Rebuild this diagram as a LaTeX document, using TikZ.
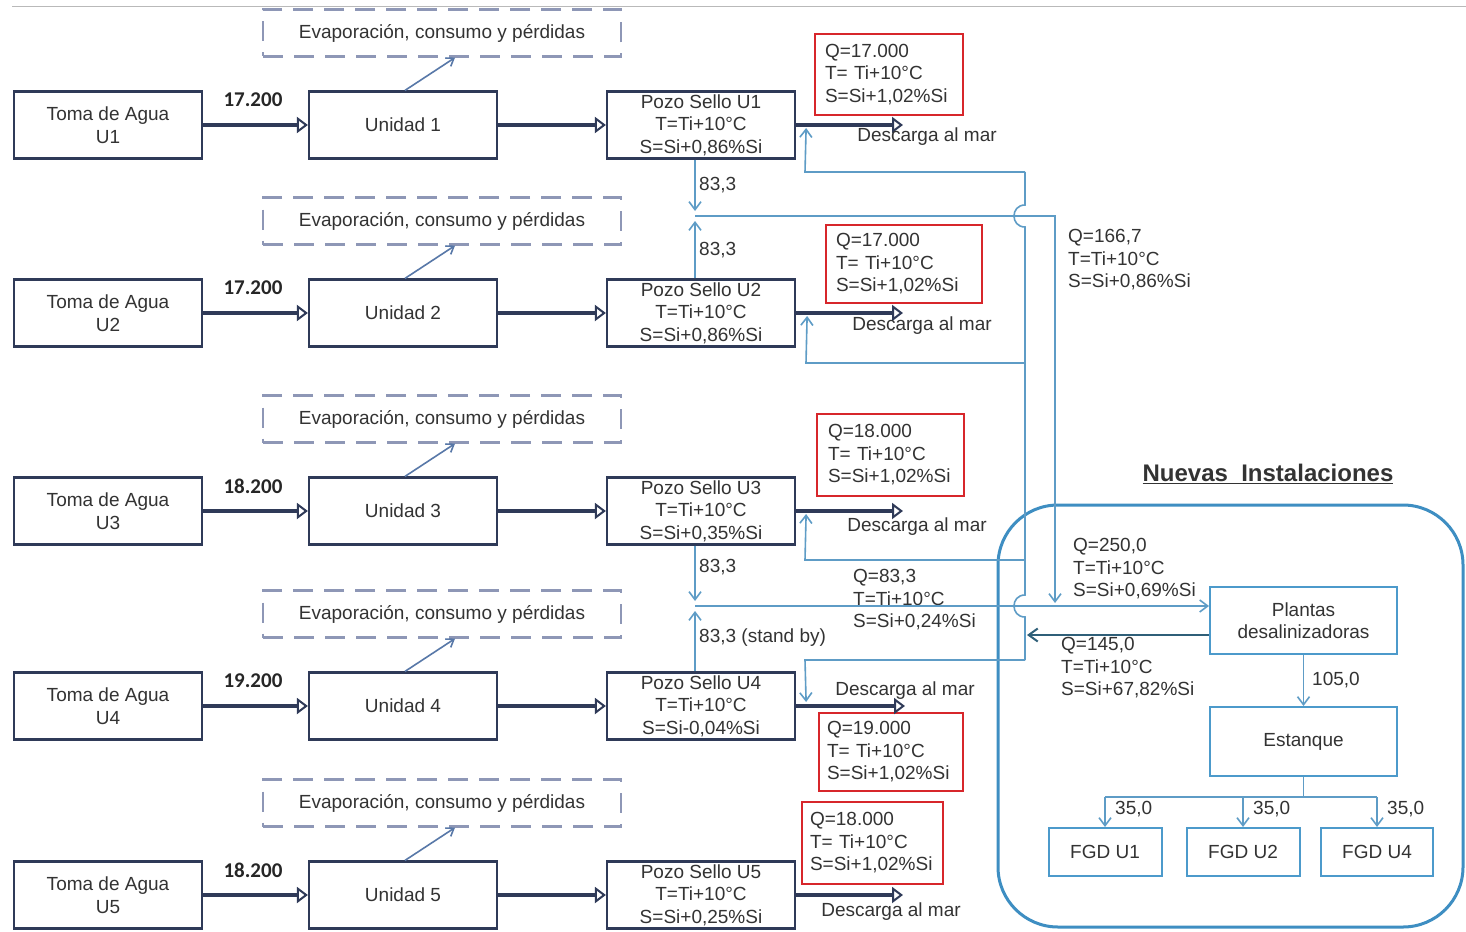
\documentclass[tikz,border=0pt]{standalone}
\usepackage{fontspec}
\setmainfont{Liberation Sans}
\newfontfamily\calib{Carlito}
\usetikzlibrary{arrows.meta}
\definecolor{navy}{HTML}{2F3A58}
\definecolor{txt}{HTML}{333333}
\definecolor{pipec}{HTML}{5E9CC6}
\definecolor{retc}{HTML}{2F5F78}
\definecolor{bigc}{HTML}{3E8EC2}
\definecolor{boxc}{HTML}{4C9ACB}
\definecolor{dashc}{HTML}{8E97B6}
\definecolor{redc}{HTML}{D7262B}
\definecolor{diagc}{HTML}{5878A8}
\newcommand{\fs}{\fontsize{19}{22.5}\selectfont}
\begin{document}
\begin{tikzpicture}[x=1pt,y=-1pt,
  nbox/.style={draw=navy, line width=2.2pt, minimum width=188pt, minimum height=67pt, align=center, text=txt, inner sep=0pt, font=\fs},
  dbox/.style={draw=dashc, line width=2.2pt, dash pattern=on 20pt off 11pt, minimum width=358pt, minimum height=47pt, text=txt, inner sep=0pt, font=\fs},
  rbox/.style={draw=redc, line width=2.6pt, align=left, text=txt, inner sep=0pt, font=\fs},
  bbox/.style={draw=boxc, line width=2pt, align=center, text=txt, inner sep=0pt, font=\fs},
  main/.style={draw=navy, line width=3.6pt, -{Triangle[open, length=11pt, width=16pt, line width=2pt]}},
  diag/.style={draw=diagc, line width=1.6pt, -{Straight Barb[length=7pt, width=10pt]}},
  pipe/.style={draw=pipec, line width=1.6pt},
  pipea/.style={pipe, -{Straight Barb[length=8pt, width=12pt]}},
  reta/.style={draw=retc, line width=2pt, -{Straight Barb[length=9pt, width=13pt]}},
  lbl/.style={text=txt, inner sep=0pt, align=left, font=\fs},
  flow/.style={text=black!85, inner sep=0pt, font=\calib\fontsize{21}{24}\selectfont\bfseries}
]
\fill[white] (0,0) rectangle (1466,931);
\useasboundingbox (0,0) rectangle (1466,931);
\draw[gray!55, line width=1pt] (12,7) -- (1466,7);

% big box
\draw[draw=bigc, line width=3pt, rounded corners=60pt] (998,505) rectangle (1463,927);
\node[font=\fontsize{24}{28}\selectfont\bfseries, text=txt] (title) at (1268,474) {\underline{Nuevas\ \ Instalaciones}};

% pozo nodes
\node[nbox] (pozo1) at (701,125) {Pozo Sello U1\\T=Ti+10°C\\S=Si+0,86\%Si};
\node[nbox] (pozo2) at (701,313) {Pozo Sello U2\\T=Ti+10°C\\S=Si+0,86\%Si};
\node[nbox] (pozo3) at (701,511) {Pozo Sello U3\\T=Ti+10°C\\S=Si+0,35\%Si};
\node[nbox] (pozo4) at (701,706) {Pozo Sello U4\\T=Ti+10°C\\S=Si-0,04\%Si};
\node[nbox] (pozo5) at (701,895) {Pozo Sello U5\\T=Ti+10°C\\S=Si+0,25\%Si};

\foreach \i/\y/\f in {1/125/17.200, 2/313/17.200, 3/511/18.200, 4/706/19.200, 5/895/18.200} {
  \node[nbox] (toma\i) at (108,\y) {Toma de Agua\\U\i};
  \node[nbox] (unid\i) at (403,\y) {Unidad \i};
  \node[dbox] (evap\i) at (442,\y-92) {Evaporación, consumo y pérdidas};
  \draw[main] (toma\i.east) -- (unid\i.west);
  \draw[main] (unid\i.east) -- (pozo\i.west);
  \node[flow] (fl\i) at (253,\y-25) {\f};
  \draw[diag] ([xshift=2pt]unid\i.north) -- ([xshift=13pt]evap\i.south);
}

% red boxes
\node[rbox, minimum width=148pt, minimum height=81pt, text width=128pt] (red1) at (889,74.5) {Q=17.000\\T= Ti+10°C\\S=Si+1,02\%Si};
\node[rbox, minimum width=156pt, minimum height=78pt, text width=136pt] (red2) at (904,264) {Q=17.000\\T= Ti+10°C\\S=Si+1,02\%Si};
\node[rbox, minimum width=147pt, minimum height=82pt, text width=125pt] (red3) at (890.5,455) {Q=18.000\\T= Ti+10°C\\S=Si+1,02\%Si};
\node[rbox, minimum width=144pt, minimum height=78pt, text width=128pt] (red4) at (891,752) {Q=19.000\\T= Ti+10°C\\S=Si+1,02\%Si};
\node[rbox, minimum width=141pt, minimum height=82pt, text width=125pt] (red5) at (872.5,843) {Q=18.000\\T= Ti+10°C\\S=Si+1,02\%Si};

% outlets
\coordinate (o1) at (903,125);
\coordinate (o2) at (903,313);
\coordinate (o3) at (903,511);
\coordinate (o4) at (905,706);
\coordinate (o5) at (903,895);
\foreach \i in {1,...,5} { \draw[main] (pozo\i.east) -- (o\i); }
\node[lbl] (d1) at (927,137) {Descarga al mar};
\node[lbl] (d2) at (922,326) {Descarga al mar};
\node[lbl] (d3) at (917,527) {Descarga al mar};
\node[lbl] (d4) at (905,691) {Descarga al mar};
\node[lbl] (d5) at (891,912) {Descarga al mar};

% new installations boxes
\node[bbox, minimum width=187pt, minimum height=67pt] (plantas) at (1303.5,620.5) {Plantas\\desalinizadoras};
\node[bbox, minimum width=187pt, minimum height=69pt] (estanque) at (1303.5,741.5) {Estanque};
\node[bbox, minimum width=113pt, minimum height=48pt] (fgd1) at (1105,852) {FGD U1};
\node[bbox, minimum width=113pt, minimum height=48pt] (fgd2) at (1243,852) {FGD U2};
\node[bbox, minimum width=112pt, minimum height=48pt] (fgd4) at (1377,852) {FGD U4};

% labels
\node[lbl, anchor=west] (l1) at (699,185) {83,3};
\node[lbl, anchor=west] (l2) at (699,250) {83,3};
\node[lbl, anchor=west] (l3) at (699,567) {83,3};
\node[lbl, anchor=west] (l4) at (699,638) {83,3 (stand by)};
\node[lbl, anchor=west] (q1) at (1068,260) {Q=166,7\\T=Ti+10°C\\S=Si+0,86\%Si};
\node[lbl, anchor=west] (q2) at (853,600) {Q=83,3\\T=Ti+10°C\\S=Si+0,24\%Si};
\node[lbl, anchor=west] (q3) at (1073,569) {Q=250,0\\T=Ti+10°C\\S=Si+0,69\%Si};
\node[lbl, anchor=west] (q4) at (1061,668) {Q=145,0\\T=Ti+10°C\\S=Si+67,82\%Si};
\node[lbl, anchor=west] (l105) at (1312,680) {105,0};

% supply network
\coordinate (j1) at (695,216);
\coordinate (j2) at (695,606);
\coordinate (vt) at (1025,172);
\coordinate (vb) at (1025,660);
\draw[pipea] ([xshift=-6pt]pozo1.south) -- ([yshift=5pt]j1);
\draw[pipea] ([xshift=-6pt]pozo2.north) -- ([yshift=-5pt]j1);
\draw[pipea] (j1) -- (1055,216) -- (1055,603);
\draw[pipea] ([xshift=-6pt]pozo3.south) -- ([yshift=5pt]j2);
\draw[pipea] ([xshift=-6pt]pozo4.north) -- ([yshift=-5pt]j2);
\draw[pipea] (j2) -- ([yshift=14.5pt]plantas.west);

% return network
\draw[pipe] (vt) -- (1025,205) .. controls (1010.3,205) and (1010.3,227) .. (1025,227) -- (1025,595) .. controls (1010.3,595) and (1010.3,617) .. (1025,617) -- (vb);
\draw[pipea] (vt) -- (805,172) -- ([xshift=10pt,yshift=-3pt]pozo1.east);
\draw[pipea] (1025,363) -- (806,363) -- ([xshift=11pt,yshift=-3pt]pozo2.east);
\draw[pipea] (1025,560) -- (805,560) -- ([xshift=10pt,yshift=-3pt]pozo3.east);
\draw[pipea] (vb) -- (805,660) -- ([xshift=10pt,yshift=4pt]pozo4.east);
\draw[reta] ([yshift=-14.5pt]plantas.west) -- (1027,635);

% distribution
\draw[pipea] (plantas.south) -- (estanque.north);
\coordinate (bus) at (1303.5,797);
\draw[pipe] (estanque.south) -- (bus);
\draw[pipe] (fgd1.north |- bus) -- (fgd4.north |- bus);
\foreach \k in {1,2,4} {
  \draw[pipea] (fgd\k.north |- bus) -- (fgd\k.north);
  \node[lbl, anchor=west] (c\k) at ([xshift=10pt,yshift=18pt]fgd\k.north) {35,0};
}
\end{tikzpicture}
\end{document}
